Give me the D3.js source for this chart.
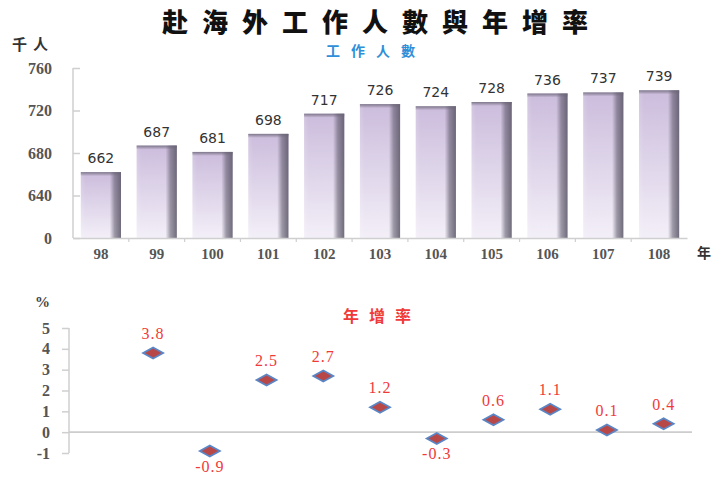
<!DOCTYPE html>
<html><head><meta charset="utf-8">
<script src="https://cdn.jsdelivr.net/npm/d3@7"></script>
<style>body{margin:0;background:#fff}svg{display:block}</style>
</head><body>
<svg id="c" width="715" height="477"></svg>
<script>
const years = ["98","99","100","101","102","103","104","105","106","107","108"];
const workers = [662,687,681,698,717,726,724,728,736,737,739];
const growth = [null,3.8,-0.9,2.5,2.7,1.2,-0.3,0.6,1.1,0.1,0.4];
const topTicks = [600,640,680,720,760];
const topTickLabels = ["0","640","680","720","760"];
const growthTicks = [-1,0,1,2,3,4,5];

const svg = d3.select("#c");
const defs = svg.append("defs");
const vg = defs.append("linearGradient").attr("id","vg").attr("x1",0).attr("y1",0).attr("x2",0).attr("y2",1);
vg.append("stop").attr("offset","0%").attr("stop-color","#cbbcdc");
vg.append("stop").attr("offset","100%").attr("stop-color","#f3eff8");
const hg = defs.append("linearGradient").attr("id","hg").attr("x1",0).attr("y1",0).attr("x2",1).attr("y2",0);
hg.append("stop").attr("offset","0%").attr("stop-color","#ffffff").attr("stop-opacity",0.15);
hg.append("stop").attr("offset","12%").attr("stop-color","#ffffff").attr("stop-opacity",0);
hg.append("stop").attr("offset","72%").attr("stop-color","#5a5566").attr("stop-opacity",0);
hg.append("stop").attr("offset","84%").attr("stop-color","#5a5566").attr("stop-opacity",0.55);
hg.append("stop").attr("offset","100%").attr("stop-color","#5a5566").attr("stop-opacity",0.85);
const tg = defs.append("linearGradient").attr("id","tg").attr("x1",0).attr("y1",0).attr("x2",0).attr("y2",1);
tg.append("stop").attr("offset","0%").attr("stop-color","#6a6575").attr("stop-opacity",0.8);
tg.append("stop").attr("offset","100%").attr("stop-color","#6a6575").attr("stop-opacity",0);

// Title
svg.append("text").attr("x",382).attr("y",32).attr("text-anchor","middle")
  .attr("font-family","'Noto Sans CJK TC'").attr("font-weight",900).attr("font-size",26)
  .attr("letter-spacing",14).attr("fill","#111").text("赴海外工作人數與年增率");
svg.append("text").attr("x",376).attr("y",56).attr("text-anchor","middle")
  .attr("font-family","'Noto Sans CJK TC'").attr("font-weight",700).attr("font-size",14)
  .attr("letter-spacing",11).attr("fill","#2f8fd8").text("工作人數");
svg.append("text").attr("x",12).attr("y",50)
  .attr("font-family","'Noto Sans CJK TC'").attr("font-weight",700).attr("font-size",15)
  .attr("letter-spacing",6).attr("fill","#333").text("千人");

// Top chart
const x = d3.scaleBand().domain(years).range([73,687]).paddingInner(0.28).paddingOuter(0.14);
const y = d3.scaleLinear().domain([600,760]).range([238,68]);

const yAxis = d3.axisLeft(y).tickValues(topTicks).tickSize(-7).tickPadding(21)
  .tickFormat((d,i)=>topTickLabels[i]);
const gy = svg.append("g").attr("transform","translate(73,0)").call(yAxis);
gy.select(".domain").attr("stroke","#cfcfcf").attr("stroke-width",1.5).attr("d","M0,68V238");
gy.selectAll(".tick line").attr("stroke","#cfcfcf").attr("stroke-width",1.5);
gy.selectAll(".tick text").attr("font-family","'Liberation Serif'").attr("font-size",16)
  .attr("font-weight",700).attr("fill","#555");

const barsG = svg.append("g");
const bars = barsG.selectAll("g.bar").data(workers).join("g").attr("class","bar");
bars.append("rect").attr("x",(d,i)=>x(years[i])).attr("y",d=>y(d)).attr("width",x.bandwidth())
  .attr("height",d=>y(600)-y(d)).attr("fill","url(#vg)");
bars.append("rect").attr("x",(d,i)=>x(years[i])).attr("y",d=>y(d)).attr("width",x.bandwidth())
  .attr("height",d=>y(600)-y(d)).attr("fill","url(#hg)");
bars.append("rect").attr("x",(d,i)=>x(years[i])).attr("y",d=>y(d)).attr("width",x.bandwidth())
  .attr("height",4).attr("fill","url(#tg)");
bars.append("text").attr("x",(d,i)=>x(years[i])+x.bandwidth()/2).attr("y",d=>y(d)-9)
  .attr("text-anchor","middle").attr("font-family","'DejaVu Sans'").attr("font-size",14)
  .attr("fill","#333").text(d=>d);

const xAxis = d3.axisBottom(x).tickSize(0).tickPadding(10);
const gx = svg.append("g").attr("transform","translate(0,238)").call(xAxis);
gx.select(".domain").attr("stroke","#cfcfcf").attr("stroke-width",1.5);
gx.selectAll(".tick text").attr("font-family","'Liberation Serif'").attr("font-size",15)
  .attr("font-weight",700).attr("fill","#555");
gx.selectAll("line.sep").data(years.slice(1)).join("line").attr("class","sep")
  .attr("x1",d=>x(d)-x.step()*x.paddingInner()/2).attr("x2",d=>x(d)-x.step()*x.paddingInner()/2)
  .attr("y1",0).attr("y2",4).attr("stroke","#cfcfcf").attr("stroke-width",1.2);
svg.append("text").attr("x",697).attr("y",258).attr("font-family","'Noto Sans CJK TC'")
  .attr("font-weight",700).attr("font-size",14).attr("fill","#333").text("年");

// Bottom chart
const x2 = d3.scaleBand().domain(years).range([68,692]);
const y2 = d3.scaleLinear().domain([-1,5]).range([453,328]);
svg.append("text").attr("x",35).attr("y",307).attr("font-family","'Liberation Serif'")
  .attr("font-weight",700).attr("font-size",15).attr("fill","#444").text("%");
svg.append("text").attr("x",382).attr("y",322).attr("text-anchor","middle")
  .attr("font-family","'Noto Sans CJK TC'").attr("font-weight",700).attr("font-size",16)
  .attr("letter-spacing",10).attr("fill","#f03a3a").text("年增率");

const y2Axis = d3.axisLeft(y2).tickValues(growthTicks).tickSize(7).tickPadding(12).tickFormat(d=>String(d));
const gy2 = svg.append("g").attr("transform","translate(69,0)").call(y2Axis);
gy2.select(".domain").attr("stroke","#cfcfcf").attr("stroke-width",1.5).attr("d","M0,328V453");
gy2.selectAll(".tick line").attr("stroke","#cfcfcf").attr("stroke-width",1.5);
gy2.selectAll(".tick text").attr("font-family","'Liberation Serif'").attr("font-size",16)
  .attr("font-weight",700).attr("fill","#555");

svg.append("line").attr("x1",69).attr("x2",692).attr("y1",y2(0)).attr("y2",y2(0))
  .attr("stroke","#cdcdcd").attr("stroke-width",1.8);

const pts = growth.map((v,i)=>({v,yr:years[i]})).filter(d=>d.v!==null);
const diamond = "M-10,0L0,-5.5L10,0L0,5.5Z";
svg.append("g").selectAll("path").data(pts).join("path")
  .attr("transform",d=>`translate(${x2(d.yr)+x2.bandwidth()/2},${y2(d.v)})`)
  .attr("d",diamond).attr("fill","#b84848").attr("stroke","#5a86c6").attr("stroke-width",1.8);
svg.append("g").selectAll("text").data(pts).join("text")
  .attr("x",d=>x2(d.yr)+x2.bandwidth()/2)
  .attr("y",d=>d.v>=0 ? y2(d.v)-14 : y2(d.v)+21)
  .attr("text-anchor","middle").attr("font-family","'Liberation Serif'").attr("font-size",16)
  .attr("letter-spacing",1).attr("fill","#f03a3a").text(d=>d.v.toFixed(1));
</script>
</body></html>
